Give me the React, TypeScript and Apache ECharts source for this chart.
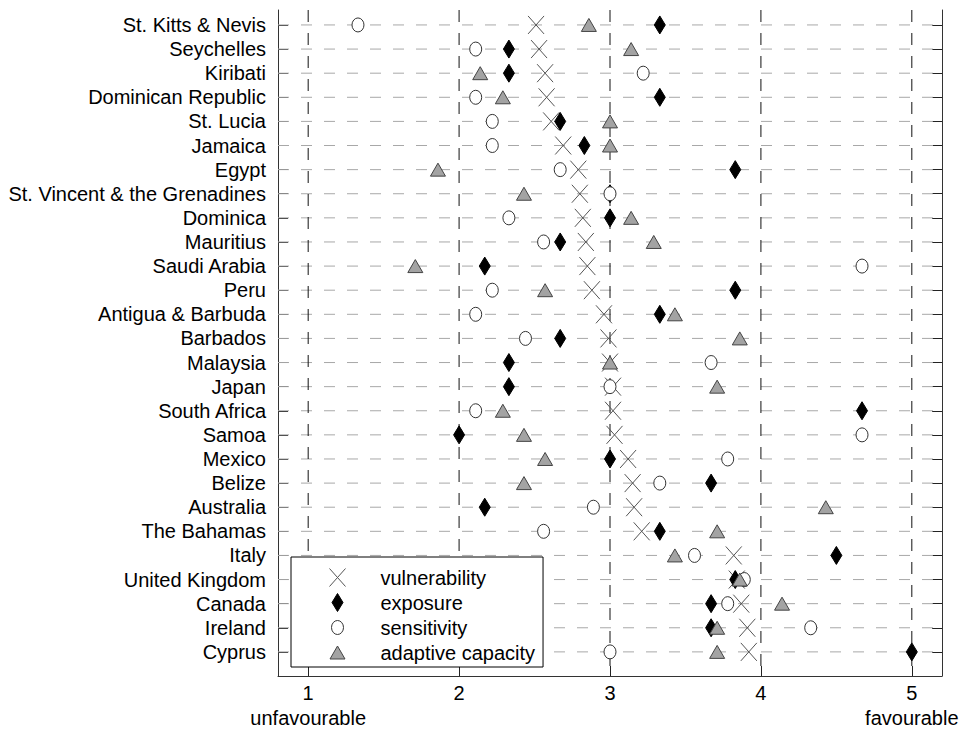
import React, { useEffect, useRef } from "react";
import * as echarts from "echarts";

const countries = [
  "St. Kitts & Nevis", "Seychelles", "Kiribati", "Dominican Republic", "St. Lucia",
  "Jamaica", "Egypt", "St. Vincent & the Grenadines", "Dominica", "Mauritius",
  "Saudi Arabia", "Peru", "Antigua & Barbuda", "Barbados", "Malaysia", "Japan",
  "South Africa", "Samoa", "Mexico", "Belize", "Australia", "The Bahamas", "Italy",
  "United Kingdom", "Canada", "Ireland", "Cyprus",
];

const vulnerability = [
  2.51, 2.53, 2.57, 2.58, 2.61, 2.69, 2.79, 2.8, 2.82, 2.84, 2.85, 2.88, 2.96, 2.99,
  3.0, 3.02, 3.02, 3.03, 3.12, 3.15, 3.16, 3.21, 3.82, 3.84, 3.87, 3.91, 3.92,
];
const exposure = [
  3.33, 2.33, 2.33, 3.33, 2.67, 2.83, 3.83, 3.0, 3.0, 2.67, 2.17, 3.83, 3.33, 2.67,
  2.33, 2.33, 4.67, 2.0, 3.0, 3.67, 2.17, 3.33, 4.5, 3.83, 3.67, 3.67, 5.0,
];
const sensitivity = [
  1.33, 2.11, 3.22, 2.11, 2.22, 2.22, 2.67, 3.0, 2.33, 2.56, 4.67, 2.22, 2.11, 2.44,
  3.67, 3.0, 2.11, 4.67, 3.78, 3.33, 2.89, 2.56, 3.56, 3.89, 3.78, 4.33, 3.0,
];
const adaptiveCapacity = [
  2.86, 3.14, 2.14, 2.29, 3.0, 3.0, 1.86, 2.43, 3.14, 3.29, 1.71, 2.57, 3.43, 3.86,
  3.0, 3.71, 2.29, 2.43, 2.57, 2.43, 4.43, 3.71, 3.43, 3.86, 4.14, 3.71, 3.71,
];

const seriesNames = ["vulnerability", "exposure", "sensitivity", "adaptive capacity"];
const xTickValues = [1, 2, 3, 4, 5];
const xTickLabels = ["1\nunfavourable", "2", "3", "4", "5\nfavourable"];

const X_MIN = 0.8;
const X_MAX = 5.2;
const Y_MIN = -0.62;
const Y_MAX = 27;

const FONT = "'Liberation Sans', Arial, Helvetica, sans-serif";

const SYM_X = "path://M0,0M20,20M2,1L18,19M18,1L2,19";
const SYM_DIAMOND = "path://M0,0M20,20M10,1L15.5,10L10,19L4.5,10Z";
const SYM_CIRCLE = "path://M0,0M20,20M16,10A6,7,0,1,1,4,10A6,7,0,1,1,16,10Z";
const SYM_TRIANGLE = "path://M0,0M20,20M10,3.5L17.5,16.5L2.5,16.5Z";

export default function App() {
  const ref = useRef<HTMLDivElement>(null);

  useEffect(() => {
    if (!ref.current) return;
    const chart = echarts.init(ref.current, undefined, { renderer: "svg" });
    const rowIdx = countries.map((_, i) => i);

    const yAxisBase = {
      type: "value",
      inverse: true,
      min: Y_MIN,
      max: Y_MAX,
      axisLine: { show: true, lineStyle: { color: "#333", width: 1 } },
      axisTick: {
        show: true,
        inside: true,
        length: 10,
        customValues: rowIdx,
        lineStyle: { color: "#222", width: 1 },
      },
      splitLine: { show: false },
    };

    const toPts = (arr: number[]) => arr.map((v, i) => [v, i]);

    const option: any = {
      animation: false,
      backgroundColor: "#fff",
      textStyle: { fontFamily: FONT },
      grid: { left: 278, right: 23, top: 10, bottom: 55, containLabel: false },
      xAxis: {
        type: "value",
        min: X_MIN,
        max: X_MAX,
        axisLine: { show: true, onZero: false, lineStyle: { color: "#333", width: 1 } },
        axisTick: {
          show: true,
          inside: true,
          length: 10,
          customValues: xTickValues,
          lineStyle: { color: "#222" },
        },
        axisLabel: {
          customValues: xTickValues,
          formatter: (v: number) => {
            const i = xTickValues.indexOf(v);
            return i >= 0 ? xTickLabels[i] : "";
          },
          fontSize: 20,
          lineHeight: 25,
          color: "#000",
          margin: 4,
          fontFamily: FONT,
        },
        splitLine: { show: false },
      },
      yAxis: [
        {
          ...yAxisBase,
          position: "left",
          axisLabel: {
            customValues: rowIdx,
            formatter: (v: number) => countries[v] ?? "",
            fontSize: 20,
            color: "#000",
            margin: 12,
            fontFamily: FONT,
          },
        },
        {
          ...yAxisBase,
          position: "right",
          axisLabel: { show: false },
        },
      ],
      legend: {
        data: seriesNames,
        orient: "vertical",
        left: 291,
        top: 557,
        itemWidth: 76,
        itemHeight: 20,
        itemGap: 4,
        padding: [10, 8, 4, 36],
        borderColor: "#000",
        borderWidth: 1,
        borderRadius: 0,
        backgroundColor: "#fff",
        selectedMode: false,
        itemStyle: { borderWidth: 1 },
        textStyle: { fontSize: 20, color: "#000", fontFamily: FONT },
      },
      series: [
        {
          type: "custom",
          name: "hgrid",
          silent: true,
          z: 1,
          data: rowIdx.map((i) => [X_MIN, i]),
          renderItem: (params: any, api: any) => {
            const cs = params.coordSys;
            const y = api.coord([X_MIN, api.value(1)])[1];
            return {
              type: "line",
              shape: { x1: cs.x, y1: y, x2: cs.x + cs.width, y2: y },
              style: { stroke: "#a8a8a8", lineWidth: 1, lineDash: [11, 12] },
            };
          },
        },
        {
          type: "custom",
          name: "vgrid",
          silent: true,
          z: 1,
          data: xTickValues.map((v) => [v, 0]),
          renderItem: (params: any, api: any) => {
            const cs = params.coordSys;
            const x = api.coord([api.value(0), 0])[0];
            return {
              type: "line",
              shape: { x1: x, y1: cs.y, x2: x, y2: cs.y + cs.height },
              style: { stroke: "#111", lineWidth: 1, lineDash: [12, 11] },
            };
          },
        },
        {
          type: "scatter",
          name: "vulnerability",
          silent: true,
          symbol: SYM_X,
          symbolSize: 20,
          data: toPts(vulnerability),
          itemStyle: { color: "rgba(0,0,0,0)", borderColor: "#555", borderWidth: 1, opacity: 1 },
        },
        {
          type: "scatter",
          name: "exposure",
          silent: true,
          symbol: SYM_DIAMOND,
          symbolSize: 20,
          data: toPts(exposure),
          itemStyle: { color: "#000", borderColor: "#000", borderWidth: 1, opacity: 1 },
        },
        {
          type: "scatter",
          name: "sensitivity",
          silent: true,
          symbol: SYM_CIRCLE,
          symbolSize: 20,
          data: toPts(sensitivity),
          itemStyle: { color: "#fff", borderColor: "#333", borderWidth: 1, opacity: 1 },
        },
        {
          type: "scatter",
          name: "adaptive capacity",
          silent: true,
          symbol: SYM_TRIANGLE,
          symbolSize: 20,
          data: toPts(adaptiveCapacity),
          itemStyle: { color: "#a3a3a3", borderColor: "#444", borderWidth: 1, opacity: 1 },
        },
      ],
    };

    chart.setOption(option);
    return () => chart.dispose();
  }, []);

  return (
    <div
      ref={ref}
      style={{ position: "absolute", left: 0, top: 0, width: 965, height: 731 }}
    />
  );
}
